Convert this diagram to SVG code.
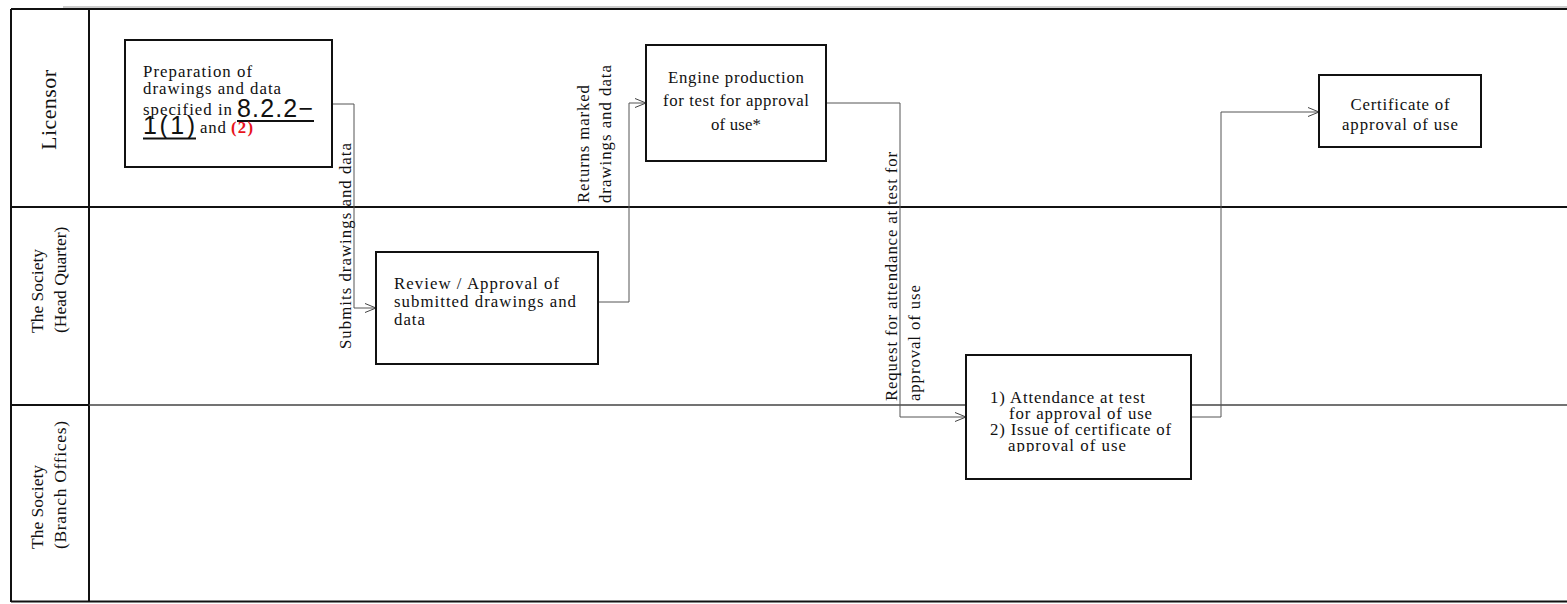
<svg xmlns="http://www.w3.org/2000/svg" width="1567" height="604" viewBox="0 0 1567 604">
<style>
.t{font-family:"Liberation Serif","Times New Roman",serif;font-size:16.8px;fill:#111}
.lane{font-family:"Liberation Serif","Times New Roman",serif;font-size:17.5px;fill:#111}
.sans{font-family:"Liberation Sans",Arial,sans-serif;font-size:25px;fill:#111}
.box{fill:#fff;stroke:#111;stroke-width:2}
.frame{stroke:#111;stroke-width:2;fill:none}
.con{fill:none;stroke:#555;stroke-width:1}
.ul{stroke:#111;stroke-width:2}
</style>
<defs>
<marker id="arr" markerWidth="13" markerHeight="12" refX="11.5" refY="6" orient="auto" markerUnits="userSpaceOnUse">
<path d="M0.5,1.5 L11.5,6 L0.5,10.5" fill="none" stroke="#444" stroke-width="1"/>
</marker>
<clipPath id="clip4"><rect x="966" y="355" width="225" height="97"/></clipPath>
</defs>
<rect width="1567" height="604" fill="#fff"/>
<g id="frame">
<line x1="63" y1="7" x2="1567" y2="7" stroke="#999" stroke-width="1"/>
<line class="frame" x1="11" y1="9" x2="1567" y2="9"/>
<line class="frame" x1="11" y1="9" x2="11" y2="602"/>
<line class="frame" x1="89" y1="9" x2="89" y2="602"/>
<line class="frame" x1="11" y1="207" x2="1567" y2="207"/>
<line class="frame" x1="11" y1="405" x2="89" y2="405"/>
<line x1="89" y1="405" x2="1567" y2="405" stroke="#444" stroke-width="1.5"/>
<line class="frame" x1="11" y1="601.5" x2="1567" y2="601.5"/>
</g>
<g id="lane-licensor">
<text class="lane" style="font-size:22px" transform="translate(56,110) rotate(-90)" text-anchor="middle" textLength="80">Licensor</text>
</g>
<g id="lane-hq">
<text class="lane" transform="translate(43,333) rotate(-90)">The Society</text>
<text class="lane" transform="translate(66,333) rotate(-90)">(Head Quarter)</text>
</g>
<g id="lane-branch">
<text class="lane" transform="translate(43,549) rotate(-90)">The Society</text>
<text class="lane" transform="translate(66,549) rotate(-90)" textLength="128">(Branch Offices)</text>
</g>
<g id="connectors">
<path class="con" d="M332,104 H354 V308 H376" marker-end="url(#arr)"/>
<path class="con" d="M598,302 H629 V103 H646" marker-end="url(#arr)"/>
<path class="con" d="M826,103 H900 V417 H966" marker-end="url(#arr)"/>
<path class="con" d="M1191,417 H1221 V112 H1319" marker-end="url(#arr)"/>
<text class="t" transform="translate(351,349) rotate(-90)" textLength="206">Submits drawings and data</text>
<text class="t" transform="translate(589,203) rotate(-90)" textLength="118">Returns marked</text>
<text class="t" transform="translate(611,203) rotate(-90)" textLength="138">drawings and data</text>
<text class="t" transform="translate(897,401) rotate(-90)" textLength="249">Request for attendance at test for</text>
<text class="t" transform="translate(920,401) rotate(-90)" textLength="116">approval of use</text>
</g>
<g id="node-preparation">
<rect class="box" x="125" y="40" width="207" height="127"/>
<text class="t" x="143" y="77" textLength="109">Preparation of</text>
<text class="t" x="143" y="94" textLength="138">drawings and data</text>
<text class="t" x="143" y="115" textLength="89">specified in</text>
<text class="sans" x="237" y="116.5" textLength="76">8.2.2−</text>
<line class="ul" x1="237" y1="121" x2="314" y2="121"/>
<text class="sans" x="143" y="133.5" textLength="52">1(1)</text>
<line class="ul" x1="143" y1="138.5" x2="196" y2="138.5"/>
<text class="t" x="200" y="133" textLength="26">and</text>
<text class="t" x="231" y="133" textLength="22" style="fill:#e8141c;font-weight:bold">(2)</text>
</g>
<g id="node-review">
<rect class="box" x="376" y="252" width="222" height="112"/>
<text class="t" x="394" y="289" textLength="165">Review / Approval of</text>
<text class="t" x="394" y="307" textLength="182">submitted drawings and</text>
<text class="t" x="394" y="325" textLength="31">data</text>
</g>
<g id="node-engine">
<rect class="box" x="646" y="45" width="180" height="116"/>
<text class="t" x="736" y="83" text-anchor="middle" textLength="136">Engine production</text>
<text class="t" x="736" y="106" text-anchor="middle" textLength="146">for test for approval</text>
<text class="t" x="736" y="130" text-anchor="middle" textLength="50">of use*</text>
</g>
<g id="node-attendance">
<rect class="box" x="966" y="355" width="225" height="124"/>
<g clip-path="url(#clip4)">
<text class="t" x="990" y="403" textLength="155">1) Attendance at test</text>
<text class="t" x="1009" y="419" textLength="143">for approval of use</text>
<text class="t" x="990" y="435" textLength="181">2) Issue of certificate of</text>
<text class="t" x="1008" y="451" textLength="118">approval of use</text>
</g>
</g>
<g id="node-certificate">
<rect class="box" x="1319" y="75" width="162" height="72"/>
<text class="t" x="1400" y="110" text-anchor="middle" textLength="99">Certificate of</text>
<text class="t" x="1400" y="130" text-anchor="middle" textLength="116">approval of use</text>
</g>
</svg>
